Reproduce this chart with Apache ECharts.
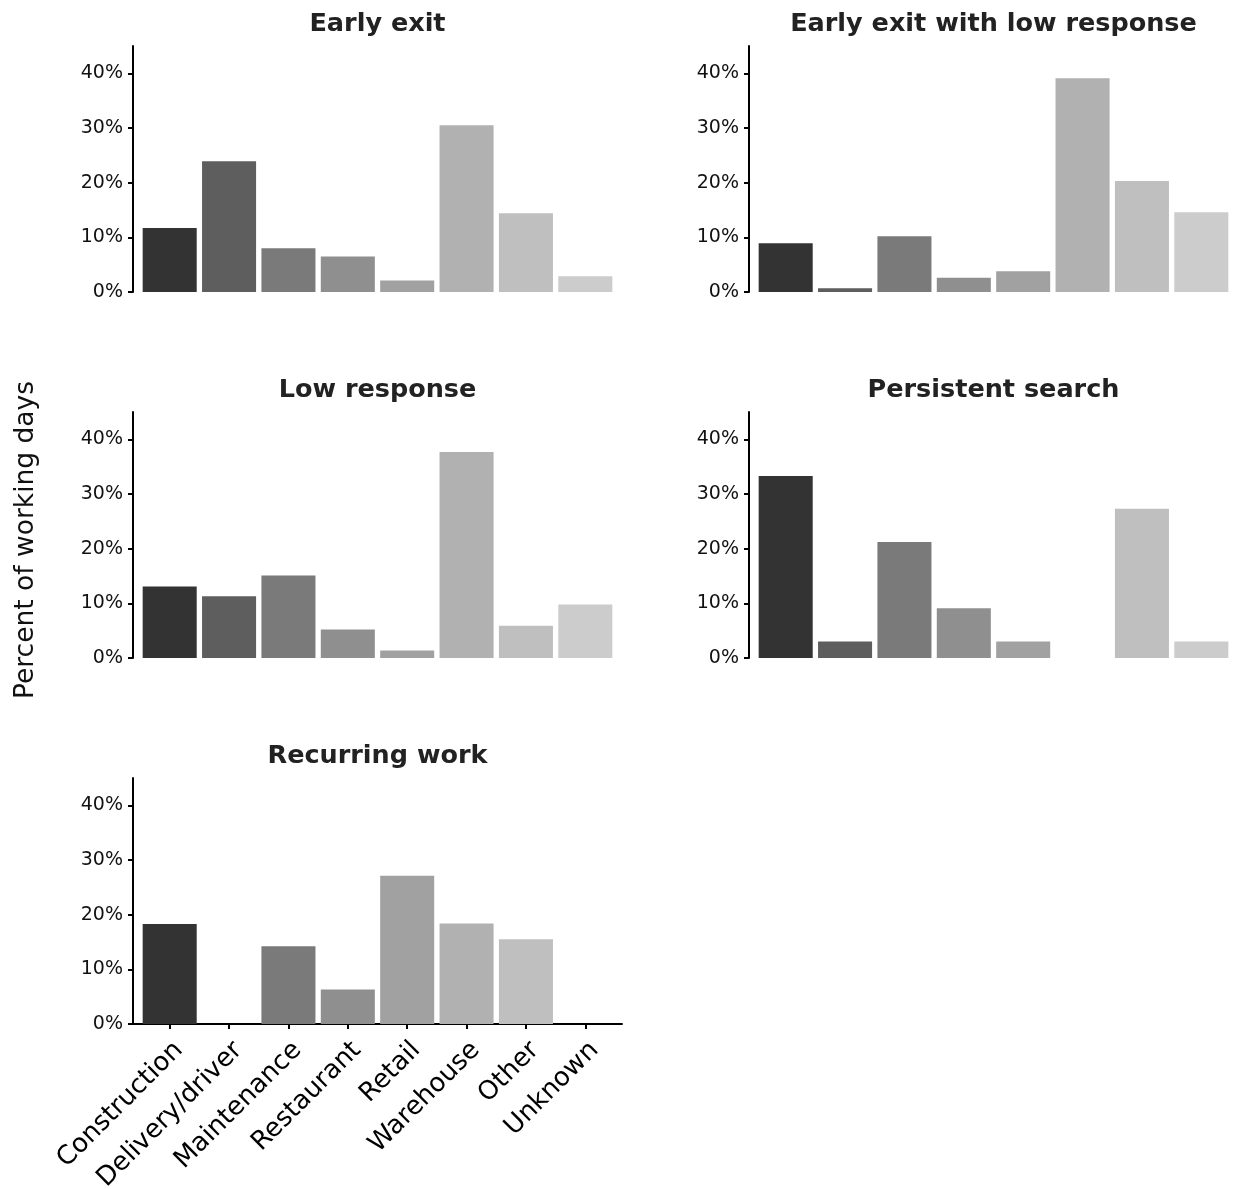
<!DOCTYPE html>
<html><head><meta charset="utf-8">
<script src="https://cdn.jsdelivr.net/npm/echarts@6/dist/echarts.min.js"></script>
<style>html,body{margin:0;padding:0;background:#fff}#c{width:1238px;height:1189px}</style>
</head><body><div id="c"></div>
<script>
const categories = ['Construction','Delivery/driver','Maintenance','Restaurant','Retail','Warehouse','Other','Unknown'];
const earlyExit            = [11.7, 23.9, 8.0, 6.5, 2.1, 30.5, 14.4, 2.9];
const earlyExitLowResponse = [8.9, 0.7, 10.2, 2.6, 3.8, 39.1, 20.3, 14.6];
const lowResponse          = [13.1, 11.3, 15.1, 5.2, 1.35, 37.7, 5.9, 9.8];
const persistentSearch     = [33.3, 3.0, 21.2, 9.1, 3.0, 0, 27.3, 3.0];
const recurringWork        = [18.3, 0, 14.2, 6.3, 27.1, 18.4, 15.5, 0];
const yTicks = [0, 10, 20, 30, 40];
const yLabel = 'Percent of working days';
const palette = ['#333333','#5e5e5e','#7a7a7a','#8f8f8f','#a1a1a1','#b1b1b1','#bfbfbf','#cccccc'];

const panels = [
  {title:'Early exit', values:earlyExit, row:0, col:0},
  {title:'Early exit with low response', values:earlyExitLowResponse, row:0, col:1},
  {title:'Low response', values:lowResponse, row:1, col:0},
  {title:'Persistent search', values:persistentSearch, row:1, col:1},
  {title:'Recurring work', values:recurringWork, row:2, col:0}
];

const colLeft = [140, 756], barAreaW = 475, inset = 7;
const rowTop = [46, 412, 778], plotH = 246;
const FONT = 'DejaVu Sans';

const grids = [], xAxes = [], yAxes = [], series = [], graphics = [];
panels.forEach((p, i) => {
  const isBottom = p.row === 2;
  grids.push({left: colLeft[p.col], top: rowTop[p.row], width: barAreaW, height: plotH,
              containLabel: false, outerBoundsMode: 'none'});
  xAxes.push({
    type: 'category', gridIndex: i, data: categories,
    axisLine: {show: false},
    axisTick: {show: isBottom, alignWithLabel: true, length: 5, lineStyle: {color: '#000', width: 2}},
    axisLabel: {show: isBottom, rotate: 45, interval: 0, fontSize: 26, fontFamily: FONT, color: '#000',
                margin: 13, verticalAlign: 'top'}
  });
  yAxes.push({
    type: 'value', gridIndex: i, min: 0, max: 45, offset: inset,
    axisLine: {show: true, lineStyle: {color: '#000', width: 2}},
    axisTick: {show: true, length: 5, customValues: yTicks, lineStyle: {color: '#000', width: 2}},
    axisLabel: {customValues: yTicks, formatter: '{value}%', fontSize: 19, fontFamily: FONT, color: '#111', margin: 10},
    splitLine: {show: false}
  });
  series.push({type: 'bar', xAxisIndex: i, yAxisIndex: i, data: p.values, colorBy: 'data',
               barCategoryGap: '9%', silent: true});
  graphics.push({type: 'text', x: colLeft[p.col] + barAreaW / 2, y: rowTop[p.row] - 22,
    style: {text: p.title, align: 'center', verticalAlign: 'middle', font: 'bold 25.5px "DejaVu Sans"', fill: '#222'}});
});

// full-width bottom spine for the lowest panel
const sp = grids.length;
grids.push({left: colLeft[0] - inset, top: rowTop[2], width: barAreaW + 2 * inset, height: plotH,
            containLabel: false, outerBoundsMode: 'none'});
xAxes.push({type: 'category', gridIndex: sp, data: [''], axisLine: {show: true, lineStyle: {color: '#000', width: 2}},
            axisTick: {show: false}, axisLabel: {show: false}});
yAxes.push({type: 'value', gridIndex: sp, min: 0, max: 45, show: false});

graphics.push({type: 'text', x: 26, y: 540, rotation: Math.PI / 2,
  style: {text: yLabel, align: 'center', verticalAlign: 'middle', font: '26.5px "DejaVu Sans"', fill: '#111'}});

const chart = echarts.init(document.getElementById('c'), null, {renderer: 'canvas'});
chart.setOption({
  animation: false,
  color: palette,
  textStyle: {fontFamily: FONT},
  grid: grids, xAxis: xAxes, yAxis: yAxes, series: series,
  graphic: graphics
});
</script></body></html>
